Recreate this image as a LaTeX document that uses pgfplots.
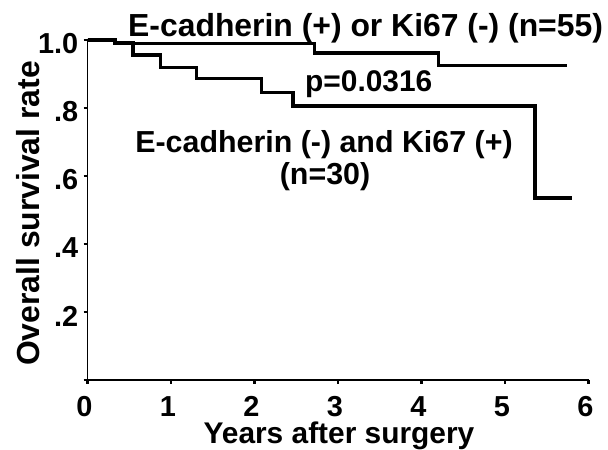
\documentclass[border=0pt]{standalone}
\usepackage{fontspec}
\setmainfont{Liberation Sans}
\usepackage{pgfplots}
\pgfplotsset{compat=1.18}
\begin{document}
\begin{tikzpicture}
\useasboundingbox (0,0) rectangle (608bp,450bp);
\begin{axis}[
  at={(87.5bp,70bp)}, anchor=south west,
  scale only axis, width=501bp, height=340bp,
  xmin=0, xmax=6, ymin=0, ymax=1,
  axis lines=left, axis line style={-, line width=1.6bp},
  xtick={0,1,2,3,4,5,6}, xticklabels={0,1,2,3,4,5,6},
  ytick={0,0.2,0.4,0.6,0.8,1}, yticklabels={,.2,.4,.6,.8,1.0},
  tick align=outside, major tick length=4bp,
  tick style={line width=2.2bp, black},
  /pgf/number format/assume math mode=true,
  ticklabel style={font=\bfseries\fontsize{29}{29}\selectfont},
  xticklabel style={inner sep=0pt, yshift=-12bp, xshift=-3bp},
  yticklabel style={inner sep=0pt, xshift=-5bp, yshift=-4bp},
  clip=false,
]
\addplot[const plot, black, line width=3.2bp] coordinates {
  (0,1.0) (0.33,0.989) (2.72,0.962) (4.20,0.926) (5.74,0.926)
};
\addplot[const plot, black, line width=3.2bp] coordinates {
  (0,1.0) (0.33,0.992) (0.545,0.956) (0.87,0.919) (1.31,0.887)
  (2.08,0.846) (2.46,0.806) (5.36,0.535) (5.80,0.535)
};
\end{axis}
\node[anchor=base west, inner sep=0pt, font=\bfseries\fontsize{32}{32}\selectfont] at (128bp,413bp) {E-cadherin (+) or Ki67 (-) (n=55)};
\node[anchor=base west, inner sep=0pt, font=\bfseries\fontsize{30}{30}\selectfont] at (305bp,358.3bp) {p=0.0316};
\node[anchor=base, inner sep=0pt, font=\bfseries\fontsize{30.5}{30.5}\selectfont] at (324bp,297bp) {E-cadherin (-) and Ki67 (+)};
\node[anchor=base, inner sep=0pt, font=\bfseries\fontsize{30.5}{30.5}\selectfont] at (325bp,265bp) {(n=30)};
\node[anchor=base, inner sep=0pt, font=\bfseries\fontsize{30}{30}\selectfont] at (339bp,6.5bp) {Years after surgery};
\node[anchor=base, rotate=90, inner sep=0pt, font=\bfseries\fontsize{32}{32}\selectfont] at (39bp,236.5bp) {Overall survival rate};
\end{tikzpicture}
\end{document}
